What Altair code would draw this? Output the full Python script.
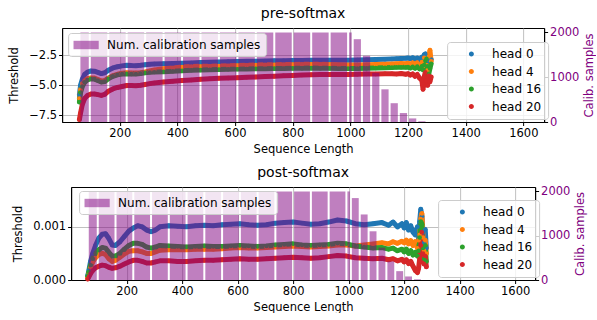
import altair as alt
import pandas as pd

# Sequence lengths at which the per-head thresholds were recorded
seq_len = [60, 64, 70, 78, 88, 100, 112, 124, 136, 148, 160, 176, 192, 208, 224,
           240, 256, 272, 288, 304, 320, 352, 384, 416, 448, 480, 512, 544, 576, 608,
           640, 672, 704, 736, 768, 800, 832, 864, 896, 928, 960, 992, 1024, 1056, 1088,
           1120, 1144, 1160, 1176, 1192, 1200, 1208, 1216, 1224, 1232, 1240, 1248, 1252,
           1256, 1260, 1264, 1268, 1272, 1276, 1280]

heads = ["head 0", "head 4", "head 16", "head 20"]
head_colors = ["#1f77b4", "#ff7f0e", "#2ca02c", "#d62728"]

# pre-softmax thresholds
pre_head0 = [-5.8, -5.0, -4.5, -4.1, -3.9, -3.8, -3.82, -3.92, -4.02, -3.95,
             -3.75, -3.55, -3.45, -3.38, -3.33, -3.35, -3.36, -3.33, -3.28, -3.24,
             -3.22, -3.2, -3.18, -3.16, -3.13, -3.1, -3.08, -3.06, -3.04, -3.02,
             -3.0, -2.99, -2.98, -2.96, -2.95, -2.94, -2.93, -2.92, -2.92, -2.91,
             -2.9, -2.9, -2.88, -2.86, -2.84, -2.82, -2.8, -2.78, -2.76, -2.74,
             -2.72, -2.78, -2.7, -2.8, -2.72, -2.88, -2.65, -2.9, -2.45, -2.38,
             -2.6, -2.95, -2.7, -3.05, -2.85]
pre_head4 = [-6.1, -5.4, -4.9, -4.6, -4.45, -4.38, -4.4, -4.52, -4.65, -4.6,
             -4.4, -4.2, -4.08, -4.0, -3.95, -3.97, -3.98, -3.95, -3.88, -3.8,
             -3.72, -3.62, -3.55, -3.48, -3.44, -3.42, -3.4, -3.38, -3.36, -3.34,
             -3.32, -3.3, -3.29, -3.28, -3.27, -3.26, -3.25, -3.25, -3.25, -3.26,
             -3.28, -3.3, -3.3, -3.28, -3.26, -3.24, -3.22, -3.2, -3.18, -3.2,
             -3.15, -3.25, -3.12, -3.22, -3.1, -3.3, -3.05, -3.4, -2.7, -2.9,
             -3.3, -3.75, -2.6, -2.08, -3.0]
pre_head16 = [-6.4, -5.6, -5.1, -4.75, -4.55, -4.45, -4.48, -4.6, -4.73, -4.68,
              -4.45, -4.25, -4.12, -4.06, -4.03, -4.05, -4.06, -4.02, -3.96, -3.92,
              -3.9, -3.86, -3.82, -3.78, -3.75, -3.72, -3.7, -3.68, -3.66, -3.65,
              -3.63, -3.62, -3.61, -3.6, -3.59, -3.58, -3.57, -3.56, -3.57, -3.58,
              -3.6, -3.6, -3.59, -3.57, -3.55, -3.53, -3.51, -3.5, -3.49, -3.5,
              -3.48, -3.55, -3.45, -3.58, -3.42, -3.62, -3.4, -3.7, -3.3, -2.95,
              -2.78, -3.4, -4.03, -3.6, -3.2]
pre_head20 = [-7.85, -7.3, -6.6, -6.1, -5.85, -5.72, -5.72, -5.78, -5.84, -5.75,
              -5.5, -5.3, -5.18, -5.1, -5.02, -5.02, -5.04, -5.0, -4.93, -4.86,
              -4.8, -4.72, -4.66, -4.6, -4.55, -4.5, -4.46, -4.42, -4.39, -4.36,
              -4.33, -4.3, -4.27, -4.24, -4.21, -4.18, -4.15, -4.12, -4.1, -4.1,
              -4.1, -4.1, -4.08, -4.06, -4.05, -4.04, -4.03, -4.05, -4.02, -4.08,
              -4.03, -4.15, -4.05, -4.25, -4.1, -4.4, -4.6, -5.33, -4.3, -3.9,
              -4.6, -5.0, -4.2, -4.7, -4.3]

# post-softmax thresholds
post_head0 = [0.00008, 0.00018, 0.00035, 0.0005, 0.00065, 0.00079, 0.00086, 0.00087, 0.00078, 0.00066,
              0.00065, 0.00072, 0.00082, 0.00092, 0.00098, 0.00102, 0.00100, 0.00094, 0.00091, 0.00094,
              0.00100, 0.00102, 0.00101, 0.00100, 0.00102, 0.00103, 0.00102, 0.00104, 0.00105, 0.00106,
              0.00104, 0.00103, 0.00104, 0.00107, 0.00108, 0.00109, 0.00107, 0.00105, 0.00106, 0.00109,
              0.00113, 0.00111, 0.00106, 0.00104, 0.00106, 0.00108, 0.00103, 0.00109, 0.00100, 0.00106,
              0.00098, 0.00108, 0.00094, 0.00102, 0.00090, 0.00085, 0.00100, 0.00078, 0.00110, 0.00133,
              0.00120, 0.00090, 0.00070, 0.00095, 0.00060]
post_head4 = [0.00005, 0.00012, 0.00024, 0.00034, 0.00042, 0.00048, 0.00050, 0.00048, 0.00040, 0.00035,
              0.00037, 0.00043, 0.00049, 0.00054, 0.00055, 0.00055, 0.00053, 0.00050, 0.00050, 0.00053,
              0.00056, 0.00057, 0.00057, 0.00057, 0.00058, 0.00058, 0.00058, 0.00059, 0.00060, 0.00061,
              0.00060, 0.00060, 0.00061, 0.00062, 0.00063, 0.00064, 0.00063, 0.00062, 0.00063, 0.00064,
              0.00066, 0.00066, 0.00064, 0.00066, 0.00068, 0.00070, 0.00068, 0.00072, 0.00069, 0.00073,
              0.00070, 0.00075, 0.00068, 0.00074, 0.00065, 0.00072, 0.00060, 0.00075, 0.00085, 0.00115,
              0.00125, 0.00080, 0.00055, 0.00075, 0.00050]
post_head16 = [0.00007, 0.00015, 0.00028, 0.00040, 0.00050, 0.00057, 0.00061, 0.00060, 0.00052, 0.00045,
               0.00045, 0.00050, 0.00058, 0.00065, 0.00069, 0.00069, 0.00067, 0.00062, 0.00060, 0.00062,
               0.00065, 0.00064, 0.00063, 0.00062, 0.00063, 0.00064, 0.00063, 0.00063, 0.00064, 0.00065,
               0.00064, 0.00063, 0.00064, 0.00066, 0.00067, 0.00068, 0.00066, 0.00065, 0.00066, 0.00067,
               0.00069, 0.00068, 0.00064, 0.00062, 0.00060, 0.00061, 0.00058, 0.00060, 0.00055, 0.00058,
               0.00053, 0.00058, 0.00050, 0.00055, 0.00047, 0.00052, 0.00045, 0.00055, 0.00080, 0.00110,
               0.00105, 0.00060, 0.00040, 0.00065, 0.00035]
post_head20 = [0.00002, 0.00006, 0.00012, 0.00018, 0.00023, 0.00026, 0.00028, 0.00027, 0.00024, 0.00022,
               0.00023, 0.00026, 0.00030, 0.00034, 0.00037, 0.00037, 0.00035, 0.00032, 0.00032, 0.00034,
               0.00036, 0.00036, 0.00035, 0.00035, 0.00036, 0.00037, 0.00037, 0.00038, 0.00039, 0.00040,
               0.00039, 0.00039, 0.00040, 0.00041, 0.00042, 0.00043, 0.00042, 0.00041, 0.00042, 0.00044,
               0.00046, 0.00045, 0.00042, 0.00041, 0.00040, 0.00041, 0.00038, 0.00040, 0.00036, 0.00039,
               0.00034, 0.00038, 0.00031, 0.00035, 0.00026, 0.00018, 0.00014, 0.00022, 0.00040, 0.00065,
               0.00090, 0.00050, 0.00030, 0.00045, 0.00025]

# Calibration sample counts per sequence-length bin
bin_start = [60, 96, 160, 224, 288, 352, 416, 480, 544, 608, 672, 736, 800, 864, 928, 992,
             1008, 1040, 1072, 1104, 1136, 1168, 1200, 1232]
bin_end = [96, 160, 224, 288, 352, 416, 480, 544, 608, 672, 736, 800, 864, 928, 992, 1008,
           1040, 1072, 1104, 1136, 1168, 1200, 1232, 1264]
calib_count = [2000] * 16 + [1850, 1480, 1100, 730, 420, 200, 80, 15]

PURPLE = "#800080"
FONT = "DejaVu Sans"
LEGEND_BOX = dict(fillColor="rgba(255,255,255,0.8)", strokeColor="#cccccc", cornerRadius=3)
# legend marker: small dot set to the right of its slot, leaving room before it
DOT_RIGHT = "M3.9,0a1,1 0 1,0 2,0a1,1 0 1,0 -2,0Z"
WIDE_PATCH = "M-1.8,-0.6L1.8,-0.6L1.8,0.6L-1.8,0.6Z"


def head_frame(series):
    rows = []
    for h, vals in zip(heads, series):
        for x, v in zip(seq_len, vals):
            rows.append({"len": x, "thr": v, "head": h})
    return pd.DataFrame(rows)


calib = pd.DataFrame({"start": bin_start, "end": bin_end, "count": calib_count,
                      "what": "Num. calibration samples"})

x_scale = alt.Scale(domain=[0, 1672], nice=False, zero=False)
x_axis = alt.Axis(title="Sequence Length", values=list(range(200, 1601, 200)), grid=True,
                  format="d")


def panel(series, title, y_domain, y_ticks, y_fmt, width, height, bar_legend_xy, head_legend_xy):
    df = head_frame(series)
    x = alt.X("len:Q", scale=x_scale, axis=x_axis)
    y = alt.Y("thr:Q", scale=alt.Scale(domain=y_domain, nice=False, zero=False),
              axis=alt.Axis(title="Threshold", values=y_ticks, grid=True, titlePadding=9,
                            labelExpr=f"replace(format(datum.value, '{y_fmt}'), '-', '\u2212')"))
    # a thick band per head joining its dots
    bands = [
        alt.Chart(df).transform_filter(alt.datum.head == h)
        .mark_line(strokeWidth=5, strokeCap="round", strokeJoin="round", color=c)
        .encode(x=x, y=y)
        for h, c in zip(heads, head_colors)
    ]
    dots = alt.Chart(df).mark_circle(size=20, opacity=1).encode(
        x=x, y=y,
        color=alt.Color("head:N", scale=alt.Scale(domain=heads, range=head_colors),
                        legend=alt.Legend(title=None, orient="none",
                                          legendX=head_legend_xy[0], legendY=head_legend_xy[1],
                                          symbolType=DOT_RIGHT, symbolSize=25,
                                          labelOffset=27, symbolStrokeWidth=0,
                                          labelFontSize=12, padding=6, rowPadding=5.5,
                                          **LEGEND_BOX)),
    )
    bars = alt.Chart(calib).mark_bar(opacity=0.5, xOffset=1, x2Offset=-1).encode(
        x=alt.X("start:Q", scale=x_scale, axis=x_axis),
        x2="end:Q",
        y=alt.Y("count:Q", scale=alt.Scale(domain=[0, 2100], nice=False),
                axis=alt.Axis(orient="right", title="Calib. samples", values=[0, 1000, 2000],
                              format="d", grid=False, labelColor=PURPLE, titleColor=PURPLE,
                              titleAngle=270, titlePadding=16)),
        y2=alt.datum(0),
        fill=alt.Fill("what:N", scale=alt.Scale(range=[PURPLE]),
                      legend=alt.Legend(title=None, orient="none",
                                        legendX=bar_legend_xy[0], legendY=bar_legend_xy[1],
                                        symbolType=WIDE_PATCH,
                                        symbolSize=196, symbolOffset=6, symbolOpacity=0.5,
                                        symbolStrokeWidth=0,
                                        labelFontSize=12, labelOffset=14, padding=5,
                                        **LEGEND_BOX)),
    )
    return alt.layer(alt.layer(*bands, dots), bars).resolve_scale(y="independent").properties(
        width=width, height=height,
        title=alt.Title(title, fontSize=14, fontWeight="normal", anchor="middle", offset=5),
    )


top = panel([pre_head0, pre_head4, pre_head16, pre_head20], "pre-softmax",
            [-8.06, -0.22], [-7.5, -5.0, -2.5], ".1f", 482, 94, (6, 5), (385, 14))
bottom = panel([post_head0, post_head4, post_head16, post_head20], "post-softmax",
               [0, 0.00175], [0, 0.001], ".3f", 464, 93, (8, 4), (367, 13))

chart = alt.vconcat(top, bottom, spacing=10, center=True).resolve_scale(
    color="independent", fill="independent"
).resolve_legend(
    color="independent", fill="independent"
).properties(
    padding={"left": 8, "top": 6, "right": 0, "bottom": 0}
).configure(font=FONT).configure_view(
    stroke="black", strokeWidth=1
).configure_axis(
    domainColor="black", tickColor="black", labelColor="black", titleColor="black",
    labelFontSize=11.5, titleFontSize=11.5, titleFontWeight="normal",
    gridColor="#b0b0b0", gridWidth=0.8, tickSize=3.5, labelPadding=2,
).configure_legend(labelColor="black")

chart.save("out.html", embed_options={"renderer": "svg", "actions": False})
